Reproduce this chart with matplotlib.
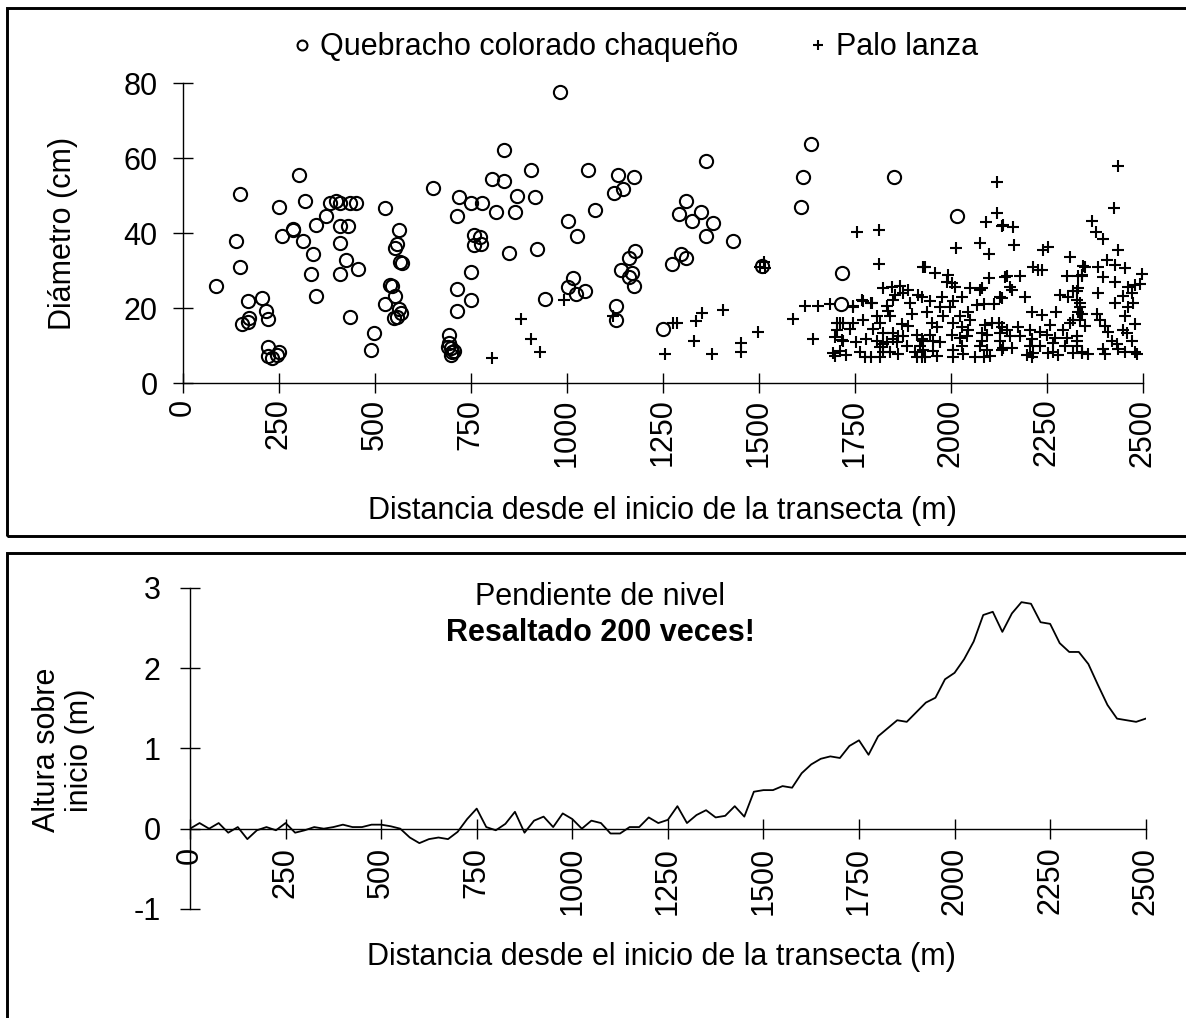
import matplotlib
matplotlib.use('Agg')
import matplotlib.pyplot as plt
from matplotlib.patches import Rectangle

plt.rcParams['font.family'] = ['Liberation Sans', 'DejaVu Sans']
plt.rcParams['axes.unicode_minus'] = False

# Quebracho colorado chaqueño: distancia (m), diámetro (cm)
quebracho_dist = [86, 140, 151, 151, 171, 156, 171, 173, 206, 218, 222, 222, 222, 234, 245, 252,
                  252, 258, 289, 289, 304, 314, 318, 339, 335, 348, 348, 374, 384, 400, 410, 411,
                  410, 410, 425, 431, 435, 435, 452, 456, 491, 498, 527, 527, 541, 545, 554, 554,
                  559, 563, 567, 571, 552, 559, 564, 569, 652, 695, 695, 691, 699, 703, 699, 707,
                  715, 715, 715, 721, 751, 752, 752, 758, 760, 776, 778, 781, 805, 816, 837, 837,
                  851, 867, 872, 907, 918, 923, 944, 983, 1005, 1016, 1005, 1027, 1025, 1047, 1055,
                  1073, 1133, 1176, 1146, 1124, 1179, 1164, 1143, 1171, 1164, 1176, 1128, 1128,
                  1250, 1276, 1292, 1297, 1312, 1312, 1327, 1351, 1363, 1363, 1381, 1433, 1510,
                  1610, 1615, 1636, 1717, 1716, 1853, 2016]
quebracho_diam = [26.0, 37.9, 50.6, 30.9, 22.0, 15.9, 16.4, 17.3, 22.7, 19.4, 17.2, 9.6, 7.4, 6.8, 7.6, 8.4,
                  47.1, 39.4, 41.2, 40.9, 55.6, 38.0, 48.5, 34.5, 29.1, 23.2, 42.2, 44.7, 48.2, 48.6, 48.2, 42.0,
                  37.3, 29.1, 33.0, 41.9, 48.2, 17.8, 48.2, 30.5, 9.0, 13.3, 46.7, 21.2, 26.1, 26.0, 23.3, 36.0,
                  37.1, 40.9, 32.4, 32.0, 17.3, 17.8, 19.8, 18.7, 52.1, 12.9, 10.7, 9.8, 9.3, 8.4, 7.5, 8.6,
                  25.2, 19.3, 44.6, 49.6, 48.2, 29.6, 22.1, 39.5, 36.8, 39.0, 37.2, 48.2, 54.5, 45.7, 62.3, 54.0,
                  34.8, 45.7, 50.0, 57.0, 49.7, 35.8, 22.6, 77.6, 43.2, 28.2, 25.6, 39.4, 23.9, 24.5, 57.0,
                  46.1, 55.5, 55.0, 51.7, 50.7, 35.4, 33.5, 30.1, 29.5, 28.4, 26.0, 20.7, 16.9,
                  14.4, 31.9, 45.2, 34.5, 48.5, 33.3, 43.3, 45.7, 59.4, 39.4, 42.7, 37.9, 31.4,
                  47.1, 55.0, 63.8, 29.5, 21.2, 55.0, 44.6]

# Palo lanza: distancia (m), diámetro (cm)
palo_dist = [807, 882, 907, 932, 993, 1122, 1256, 1277, 1287, 1332, 1338, 1352, 1408, 1378, 1455, 1455,
             1499, 1503, 1515, 1517, 1591, 1621, 1654, 1686, 1641,
             1704, 1712, 1704, 1699, 1717, 1694, 1712, 1700, 1745, 1770, 1795,
             1757, 1814, 1814, 1929,
             1825, 1847, 1868, 1890, 1916, 1855, 1851, 1877, 1894, 1834, 1838, 1899, 1873, 1890,
             1747, 1773, 1794, 1721, 1747, 1773, 1808, 1816, 1842, 1738, 1799, 1825, 1851, 1877,
             1912, 1721, 1755, 1781, 1808, 1834, 1860, 1886, 1920, 1729, 1777, 1794, 1816, 1842,
             1864, 1907, 1925, 1816, 1825, 1851, 1925, 1912, 1764, 1825, 1864,
             2122, 2092, 2122, 2133, 2014, 2077, 2101, 2142, 1934, 1960, 1994, 2003, 1990, 2012,
             2099, 2081, 2051, 2077, 2129, 2112, 2086, 2068, 2029, 2007, 1977, 1947, 1925,
             1973, 1999, 1938, 2046, 2025, 2051, 1981, 2007, 1964, 1951, 2029, 2046, 2090, 2107,
             2125, 1947, 2081, 2094, 2129, 1929, 1955, 1973, 2003, 2025, 2042, 2081, 2129,
             1929, 1955, 2007, 2029, 2077, 2094, 2133, 1934, 1964, 2007, 2033, 2064, 2086, 2103,
             2138, 2164, 2165, 2242, 2255, 2311, 2346, 2342, 2303, 2333, 2146, 2181, 2216, 2229,
             2237, 2155, 2159, 2133, 2194, 2285, 2307, 2320, 2333, 2329, 2337, 2211, 2237, 2276,
             2342, 2337, 2133, 2146, 2177, 2207, 2233, 2259, 2294, 2311, 2320, 2155, 2181, 2211,
             2250, 2272, 2303, 2329, 2138, 2159, 2207, 2233, 2268, 2298, 2329, 2198, 2211, 2216,
             2255, 2268, 2281, 2320, 2342,
             2435, 2427, 2369, 2378, 2398, 2435, 2350, 2385, 2407, 2428, 2454, 2498, 2342, 2398,
             2428, 2463, 2480, 2493, 2329, 2337, 2385, 2450, 2472, 2476, 2463, 2428, 2333, 2381,
             2389, 2454, 2480, 2450, 2459, 2350, 2402, 2411, 2329, 2420, 2433, 2472, 2342, 2359,
             2398, 2402, 2437, 2454, 2480, 2485]
palo_diam = [6.8, 17.2, 11.8, 8.4, 22.1, 18.0, 7.9, 16.0, 16.2, 11.4, 16.7, 18.8, 19.6, 7.9, 10.8, 8.4,
             13.8, 31.1, 32.3, 30.7, 17.1, 20.7, 20.7, 21.2, 11.7,
             16.0, 16.0, 14.2, 12.4, 11.5, 8.0, 8.5, 7.3, 20.4, 22.2, 21.3,
             40.4, 40.9, 31.8, 31.1,
             25.3, 25.8, 26.0, 24.9, 23.6, 23.6, 22.3, 24.1, 21.4, 20.6, 19.2, 18.6, 15.7, 15.2,
             20.6, 21.9, 21.5, 16.1, 16.1, 17.0, 17.9, 16.1, 17.9, 14.4, 14.4, 13.5, 13.5, 12.6,
             13.0, 11.4, 10.9, 11.8, 11.4, 10.9, 10.9, 10.0, 10.0, 7.5, 7.0, 7.0, 7.0, 8.3,
             7.9, 8.3, 7.0, 9.6, 8.3, 11.8, 11.8, 7.0, 8.3, 10.5, 12.6,
             53.8, 43.1, 45.3, 42.0, 36.2, 37.5, 34.4, 28.4, 31.1, 29.5, 28.9, 26.7, 27.1, 25.8,
             28.2, 25.3, 25.3, 24.9, 22.9, 21.1, 21.1, 20.8, 22.9, 22.0, 22.9, 22.0, 22.9,
             20.4, 20.4, 19.1, 19.1, 17.9, 16.9, 17.9, 16.0, 15.1, 16.0, 15.1, 14.2, 15.5, 16.0,
             16.0, 13.0, 13.5, 13.0, 13.5, 11.4, 11.4, 10.9, 13.0, 12.1, 12.6, 11.4, 11.4,
             9.0, 8.6, 9.0, 9.9, 9.9, 9.0, 9.0, 7.0, 7.4, 7.0, 7.9, 7.0, 7.0, 7.2,
             42.2, 41.7, 36.9, 35.5, 36.3, 33.6, 31.3, 28.9, 28.5, 28.6, 28.5, 28.5, 31.1, 30.2,
             30.2, 25.8, 24.9, 22.7, 23.1, 23.6, 23.1, 24.5, 25.3, 22.2, 20.4, 19.1, 18.2, 19.1,
             18.6, 16.9, 15.1, 14.2, 15.1, 14.2, 13.8, 15.5, 14.2, 16.0, 16.9, 12.6, 12.6, 11.8,
             13.0, 12.1, 12.1, 12.6, 9.5, 9.5, 9.9, 9.9, 10.8, 9.9, 9.9, 7.6, 7.0, 8.0,
             8.0, 8.3, 7.5, 8.0, 8.0,
             57.9, 46.7, 43.3, 40.4, 38.4, 35.5, 31.1, 31.1, 32.9, 31.6, 30.7, 29.2, 28.6, 28.4,
             27.1, 25.8, 26.2, 26.5, 24.5, 21.4, 24.1, 23.3, 24.1, 21.4, 20.4, 21.4, 18.9, 18.5,
             17.0, 17.9, 15.7, 14.2, 13.3, 15.2, 15.2, 13.8, 11.4, 11.4, 10.5, 11.4, 8.4, 7.9,
             9.2, 7.9, 9.2, 8.4, 8.4, 7.9]

# Pendiente de nivel: cada 25 m
perfil_dist = list(range(0, 2501, 25))
perfil_alt = [0.00, 0.07, 0.00, 0.07, -0.05, 0.02, -0.13, -0.02, 0.02, -0.02, 0.07, -0.05, -0.02,
              0.02, 0.00, 0.02, 0.05, 0.02, 0.02, 0.05, 0.05, 0.03, 0.00, -0.11, -0.18, -0.13,
              -0.11, -0.13, -0.04, 0.12, 0.25, 0.02, -0.02, 0.06, 0.21, -0.05, 0.10, 0.15, 0.02,
              0.19, 0.12, 0.00, 0.10, 0.07, -0.06, -0.06, 0.02, 0.02, 0.14, 0.07, 0.11, 0.28,
              0.07, 0.17, 0.23, 0.14, 0.16, 0.28, 0.15, 0.46, 0.48, 0.48, 0.53, 0.51, 0.69, 0.80,
              0.87, 0.90, 0.88, 1.03, 1.10, 0.92, 1.15, 1.25, 1.35, 1.33, 1.45, 1.57, 1.63, 1.86,
              1.94, 2.11, 2.33, 2.66, 2.70, 2.45, 2.68, 2.82, 2.80, 2.57, 2.55, 2.31, 2.20, 2.20,
              2.05, 1.79, 1.54, 1.37, 1.35, 1.33, 1.37]

xticks = list(range(0, 2501, 250))
W, H = 1186, 1018
fs = 22

fig = plt.figure(figsize=(W / 100, H / 100), dpi=100)

# marcos (sin borde derecho visible: se salen de la imagen)
fig.patches.append(Rectangle((7.3 / W, 1 - 536.3 / H), 1.1, (536.3 - 8.3) / H,
                             transform=fig.transFigure, fill=False, lw=2.1, ec='black'))
fig.patches.append(Rectangle((7.3 / W, -0.05), 1.1, 1 - 553 / H + 0.05,
                             transform=fig.transFigure, fill=False, lw=2.1, ec='black'))


def style_axes(ax):
    for s in ['top', 'right']:
        ax.spines[s].set_visible(False)
    for s in ['left', 'bottom']:
        ax.spines[s].set_linewidth(1.0)
    ax.tick_params(direction='inout', length=14, width=1.0, labelsize=fs)
    ax.set_xticks(xticks)
    ax.set_xticklabels([str(t) for t in xticks], rotation=90)
    ax.tick_params(axis='x', pad=4)


# --- arriba: diámetros ---
ax1 = fig.add_axes([182.5 / W, 1 - 383.3 / H, 960 / W, 300 / H])
ax1.plot(quebracho_dist, quebracho_diam, 'o', ms=9.5, mfc='none', mec='black', mew=1.5,
         ls='none', label='Quebracho colorado chaqueño', clip_on=False)
ax1.plot(palo_dist, palo_diam, '+', ms=9, mec='black', mew=1.5, ls='none',
         label='Palo lanza', clip_on=False)
ax1.set_xlim(0, 2500)
ax1.set_ylim(0, 80)
ax1.set_yticks([0, 20, 40, 60, 80])
style_axes(ax1)
ax1.tick_params(axis='y', pad=11)
ax1.set_ylabel('Diámetro (cm)', fontsize=fs)
ax1.yaxis.set_label_coords(-0.109, 0.5)
ax1.set_xlabel('Distancia desde el inicio de la transecta (m)', fontsize=fs)
ax1.xaxis.set_label_coords(0.5, -0.375)
ax1.legend(loc='center', bbox_to_anchor=(0.472, 1.12), ncol=2, frameon=False, fontsize=fs,
           markerscale=0.75, handlelength=0.6, handletextpad=0.3, columnspacing=2.3)

# --- abajo: perfil ---
ax2 = fig.add_axes([190 / W, 1 - 909 / H, 955.7 / W, 321.3 / H])
ax2.plot(perfil_dist, perfil_alt, color='black', lw=1.3)
ax2.set_xlim(0, 2500)
ax2.set_ylim(-1, 3)
ax2.spines['bottom'].set_position(('data', 0))
ax2.set_yticks([-1, 0, 1, 2, 3])
style_axes(ax2)
ax2.tick_params(axis='x', pad=6)
ax2.tick_params(axis='y', pad=14)
ax2.set_ylabel('Altura sobre\ninicio (m)', fontsize=fs, linespacing=1.15)
ax2.yaxis.set_label_coords(-0.099, 0.495)
ax2.text(0.493, -0.149, 'Distancia desde el inicio de la transecta (m)', transform=ax2.transAxes,
         fontsize=fs, ha='center', va='center')
ax2.text(0.429, 0.971, 'Pendiente de nivel', transform=ax2.transAxes, fontsize=fs,
         ha='center', va='center')
ax2.text(0.429, 0.859, 'Resaltado 200 veces!', transform=ax2.transAxes, fontsize=fs,
         ha='center', va='center', fontweight='bold')

fig.savefig('out.png', dpi=100)
